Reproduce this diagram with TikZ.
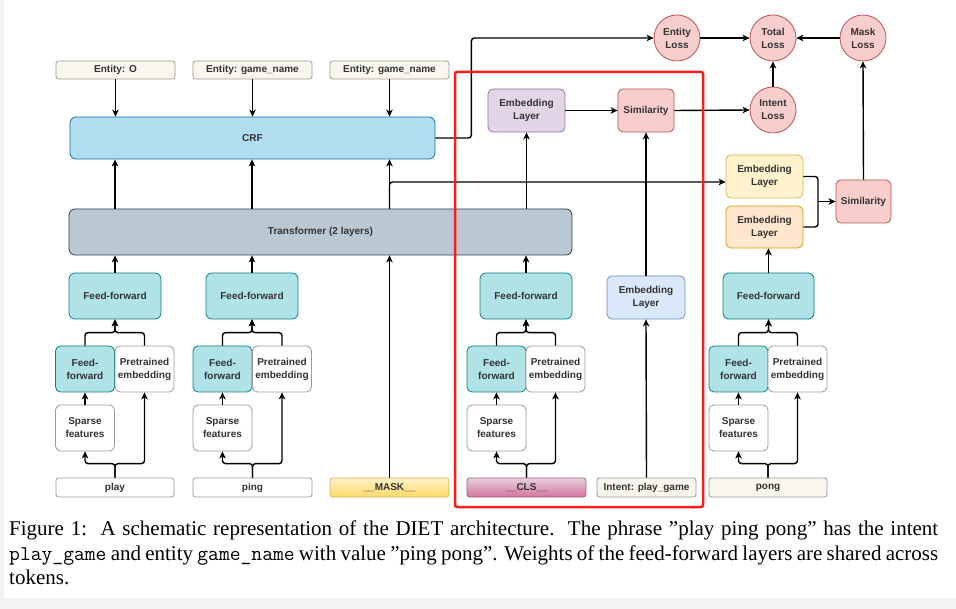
\documentclass[tikz,border=0pt]{standalone}
\usepackage{fontspec}
\setmainfont{Liberation Serif}
\setsansfont{Liberation Sans}
\usetikzlibrary{arrows.meta,calc}
\definecolor{txt}{HTML}{333333}
\definecolor{bggray}{HTML}{F3F3F3}
\definecolor{beige}{HTML}{F9F7ED}
\definecolor{graybd}{HTML}{9A9A9A}
\definecolor{crffill}{HTML}{B1DDF0}
\definecolor{crfbd}{HTML}{10739E}
\definecolor{trffill}{HTML}{BAC8D3}
\definecolor{trfbd}{HTML}{23445D}
\definecolor{fffill}{HTML}{B0E3E6}
\definecolor{ffbd}{HTML}{0E8088}
\definecolor{purfill}{HTML}{E1D5E7}
\definecolor{purbd}{HTML}{9673A6}
\definecolor{redfill}{HTML}{F8CECC}
\definecolor{redbd}{HTML}{B85450}
\definecolor{yelfill}{HTML}{FFF2CC}
\definecolor{yelbd}{HTML}{D6B656}
\definecolor{orafill}{HTML}{FFE6CC}
\definecolor{orabd}{HTML}{D79B00}
\definecolor{blufill}{HTML}{DAE8FC}
\definecolor{blubd}{HTML}{6C8EBF}
\definecolor{masktop}{HTML}{FFF2CC}
\definecolor{maskbot}{HTML}{FFD966}
\definecolor{clstop}{HTML}{E6D0DE}
\definecolor{clsbot}{HTML}{D5739D}
\definecolor{clsbd}{HTML}{996185}
\definecolor{redframe}{HTML}{FF1A1A}
\tikzset{
  boxbase/.style={rounded corners=4pt, draw, line width=0.8pt, align=center, text=txt,
    font=\sffamily\bfseries\fontsize{10}{13}\selectfont, inner sep=0pt},
  ent/.style={boxbase, rounded corners=2.5pt, fill=beige, draw=graybd, minimum width=119, minimum height=18},
  tok/.style={boxbase, rounded corners=2.5pt, fill=white, draw=graybd, minimum height=19},
  crfbox/.style={boxbase, rounded corners=6pt, fill=crffill, draw=crfbd},
  trfbox/.style={boxbase, rounded corners=6pt, fill=trffill, draw=trfbd},
  fftop/.style={boxbase, rounded corners=6pt, fill=fffill, draw=ffbd, minimum width=92, minimum height=46},
  ffsmall/.style={boxbase, rounded corners=5pt, fill=fffill, draw=ffbd, minimum width=59, minimum height=46},
  plainbox/.style={boxbase, rounded corners=5pt, fill=white, draw=graybd, minimum width=59, minimum height=46},
  embbox/.style={boxbase, rounded corners=5pt, minimum width=77, minimum height=43},
  lossc/.style={circle, draw=redbd, fill=redfill, line width=0.8pt, minimum size=46, inner sep=0pt,
    align=center, text=txt, font=\sffamily\bfseries\fontsize{10}{13}\selectfont},
  conn/.style={draw=black, line width=1.4pt, -{Stealth[length=7pt,width=6.5pt,inset=2pt]}},
  plainline/.style={draw=black, line width=1.4pt},
  rc/.style={rounded corners=3pt}
}
\begin{document}
\begin{tikzpicture}[x=1pt,y=-1pt]
\useasboundingbox (0,0) rectangle (956,609);
\fill[bggray] (0,0) rectangle (956,609);
\fill[white] (3.5,0) rectangle (956,598);

% entity labels
\node[ent] (e1) at (115.5,70) {Entity: O};
\node[ent] (e2) at (252.5,70) {Entity: game\_name};
\node[ent] (e3) at (389.5,70) {Entity: game\_name};

\node[crfbox, minimum width=365, minimum height=42] (crf) at (252.5,138) {CRF};
\node[trfbox, minimum width=503, minimum height=46] (tr) at (320.5,232) {Transformer (2 layers)};

% feed-forward tops
\node[fftop] (f1) at (115,296) {Feed-forward};
\node[fftop] (f2) at (252,296) {Feed-forward};
\node[fftop] (f4) at (526,296) {Feed-forward};
\node[fftop, minimum width=91] (f5) at (768.5,296) {Feed-forward};

% small feed-forward and pretrained
\node[ffsmall] (s1) at (85,369) {Feed-\\forward};
\node[plainbox] (p1) at (144.5,369) {Pretrained\\embedding};
\node[ffsmall] (s2) at (222.5,369) {Feed-\\forward};
\node[plainbox] (p2) at (282,369) {Pretrained\\embedding};
\node[ffsmall] (s4) at (496.5,369) {Feed-\\forward};
\node[plainbox] (p4) at (555.5,369) {Pretrained\\embedding};
\node[ffsmall] (s5) at (738.5,369) {Feed-\\forward};
\node[plainbox] (p5) at (797.5,369) {Pretrained\\embedding};

% sparse features
\node[plainbox] (sp1) at (85,428) {Sparse\\features};
\node[plainbox] (sp2) at (222.5,428) {Sparse\\features};
\node[plainbox] (sp4) at (496.5,428) {Sparse\\features};
\node[plainbox] (sp5) at (738.5,428) {Sparse\\features};

% tokens
\node[tok, minimum width=118] (play) at (115,487.5) {play};
\node[tok, minimum width=119] (ping) at (252.5,487.5) {ping};
\node[tok, minimum width=119, draw=yelbd, top color=masktop, bottom color=maskbot] (mask) at (389.5,487.5) {\_\_MASK\_\_};
\node[tok, minimum width=119, draw=clsbd, top color=clstop, bottom color=clsbot] (cls) at (526.5,487.5) {\_\_CLS\_\_};
\node[tok, minimum width=99, fill=beige] (intent) at (646.5,487.5) {Intent: play\_game};
\node[tok, minimum width=118, fill=beige] (pong) at (768,487.5) {pong};

% embeddings and similarities
\node[embbox, fill=blufill, draw=blubd, minimum width=78] (embB) at (646,297.5) {Embedding\\Layer};
\node[embbox, fill=purfill, draw=purbd] (embP) at (526.5,110.5) {Embedding\\Layer};
\node[embbox, fill=redfill, draw=redbd, minimum width=56] (sim1) at (646,110.5) {Similarity};
\node[embbox, fill=yelfill, draw=yelbd] (embY) at (764.5,176.5) {Embedding\\Layer};
\node[embbox, fill=orafill, draw=orabd, minimum height=42] (embO) at (764.5,227) {Embedding\\Layer};
\node[embbox, fill=redfill, draw=redbd, minimum width=55] (sim2) at (863.5,201.5) {Similarity};

% losses
\node[lossc] (entL) at (677,38) {Entity\\Loss};
\node[lossc] (totL) at (773,38) {Total\\Loss};
\node[lossc] (maskL) at (863,38) {Mask\\Loss};
\node[lossc] (intL) at (773,110) {Intent\\Loss};

% token columns
\foreach \t/\sp/\s/\p/\f in {play/sp1/s1/p1/f1, ping/sp2/s2/p2/f2, cls/sp4/s4/p4/f4, pong/sp5/s5/p5/f5} {
  \draw[conn, rc] (\t.north) -- ++(0,-14) -| (\sp.south);
  \draw[conn, rc] (\t.north) -- ++(0,-14) -| (\p.south);
  \draw[conn] (\sp.north) -- (\s.south);
  \draw[conn, rc] (\s.north) -- ++(0,-13) -| (\f.south);
  \draw[conn, rc] (\p.north) -- ++(0,-13) -| (\f.south);
}
\draw[conn] (f1.north) -- (f1.north |- tr.south);
\draw[conn] (f2.north) -- (f2.north |- tr.south);
\draw[conn] (f4.north) -- (f4.north |- tr.south);
\draw[conn] (f5.north) -- (f5.north |- embO.south);
\draw[conn] (mask.north) -- (mask.north |- tr.south);

% transformer to CRF
\draw[conn] (tr.north -| f1) -- (crf.south -| f1);
\draw[conn] (tr.north -| f2) -- (crf.south -| f2);
\draw[conn] (tr.north -| mask) -- (crf.south -| mask);
\draw[conn, rc] (tr.north -| mask) |- ($(embY.west)+(0,5.5)$);

% entities to CRF
\draw[conn] (e1.south) -- (e1.south |- crf.north);
\draw[conn] (e2.south) -- (e2.south |- crf.north);
\draw[conn] (e3.south) -- (e3.south |- crf.north);

% intent branch
\draw[conn] (embP.south |- tr.north) -- (embP.south);
\draw[conn] (intent.north) -- (embB.south);
\draw[conn] (embB.north) -- (sim1.south);
\draw[conn] (embP.east) -- (sim1.west);
\draw[conn] (sim1.east) -- (intL.west);

% losses
\draw[conn, rc] (crf.east) -- ++(36,0) |- (entL.west);
\draw[conn] (entL.east) -- (totL.west);
\draw[conn] (maskL.west) -- (totL.east);
\draw[conn] (intL.north) -- (totL.south);
\draw[conn] (sim2.north) -- (maskL.south);

% mask embeddings to similarity
\coordinate (br) at (818,201.5);
\draw[plainline, rc] (embY.east) -| (br);
\draw[plainline, rc] (embO.east) -| (br);
\draw[conn] (br) -- (sim2.west);

% red frame
\draw[redframe, line width=2.5pt, rounded corners=2pt] (455,72) rectangle (703,507);

% caption
\node[anchor=north west, inner sep=0pt, text width=929pt, align=justify,
  font=\fontsize{21}{24.5}\selectfont, text=black] (cap) at (9,521)
  {Figure 1:\ \ A schematic representation of the DIET architecture.\ \ The phrase ''play ping pong'' has the intent\linebreak \texttt{play\_game} and entity \texttt{game\_name} with value ''ping pong''. Weights of the feed-forward layers are shared across\linebreak tokens.};
\end{tikzpicture}
\end{document}
